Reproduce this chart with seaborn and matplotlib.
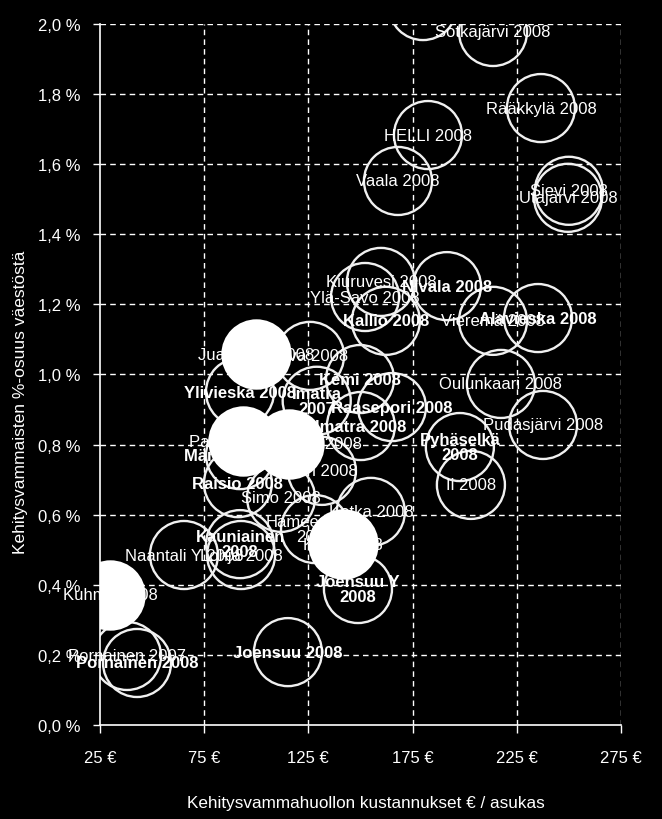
import matplotlib
matplotlib.use("Agg")
import matplotlib.pyplot as plt
import seaborn as sns
import pandas as pd
from matplotlib.ticker import FuncFormatter, FixedLocator

# ---------------- data ----------------
names = ["", "Sotkajärvi 2008", "Rääkkylä 2008", "HELLI 2008", "Vaala 2008",
         "Sievi 2008", "Utajärvi 2008", "Nivala 2008", "Kiuruvesi 2008",
         "Ylä-Savo 2008", "Kallio 2008", "Vieremä 2008", "Alavieska 2008",
         "Oulunkaari 2008", "Pudasjärvi 2008", "Pyhäselkä\n2008", "Ii 2008",
         "Raasepori 2008", "Imatra 2008", "Kemi 2008", "Juva 2008",
         "Imatra\n2007", "Ylivieska 2008", "Raisio 2008", "Simo 2008",
         "Pori 2008", "Mäntsälä 2008", "Kauniainen\n2008", "Lohja 2008",
         "Naantali Y 2008", "Hämeenlinna\n2008", "Kotka 2008", "Joensuu Y\n2008",
         "Joensuu 2008", "Pornainen 2007", "Pornainen 2008",
         "Juankoski 2008", "Parainen 2008", "Lappeenranta 2008", "Kitee 2008",
         "Kuhmo 2008"]
cost = [180.0, 213.6, 236.6, 182.4, 168.0,
        250.0, 249.6, 191.5, 159.8,
        152.2, 162.2, 213.6, 235.2,
        217.4, 237.6, 197.7, 203.0,
        165.1, 150.2, 149.8, 125.8,
        129.0, 92.2, 91.2, 111.9,
        131.5, 92.2, 92.2, 92.7,
        65.3, 128.2, 155.0, 148.8,
        115.2, 38.0, 42.8,
        99.9, 93.6, 115.7, 141.6,
        29.8]
share = [2.051, 1.977, 1.760, 1.683, 1.552,
         1.524, 1.504, 1.252, 1.264,
         1.221, 1.153, 1.153, 1.161,
         0.973, 0.856, 0.793, 0.685,
         0.907, 0.853, 0.987, 1.053,
         0.925, 0.950, 0.690, 0.648,
         0.725, 0.770, 0.516, 0.485,
         0.485, 0.559, 0.608, 0.388,
         0.208, 0.197, 0.177,
         1.058, 0.810, 0.802, 0.516,
         0.371]
filled = [False] * 36 + [True] * 5
bold = [False, False, False, False, False,
        False, False, True, False,
        False, True, False, True,
        False, False, True, False,
        True, True, True, False,
        True, True, True, False,
        False, True, True, False,
        False, False, False, True,
        True, False, True,
        False, False, False, False,
        False]

x_ticks = [25, 75, 125, 175, 225, 275]
y_ticks = [0.0, 0.2, 0.4, 0.6, 0.8, 1.0, 1.2, 1.4, 1.6, 1.8, 2.0]
x_title = "Kehitysvammahuollon kustannukset € / asukas"
y_title = "Kehitysvammaisten %-osuus väestöstä"

df = pd.DataFrame({"name": names, "cost": cost, "share": share,
                   "filled": filled, "bold": bold})

# ---------------- style ----------------
sns.set_theme(style="dark")
plt.rcParams["font.family"] = ["Liberation Sans Narrow", "Liberation Sans", "DejaVu Sans"]

fig = plt.figure(figsize=(6.62, 8.2), dpi=100, facecolor="black")
ax = fig.add_axes([0.151, 0.1146, 0.787, 0.855])
ax.set_facecolor("black")
ax.grid(False)

open_df = df[~df["filled"]]
fill_df = df[df["filled"]]

sns.scatterplot(data=open_df, x="cost", y="share", s=2400, color="white",
                edgecolor="#f0f0f0", linewidth=1.7, ax=ax, zorder=3, legend=False)
ax.collections[-1].set_facecolor("none")
sns.scatterplot(data=fill_df, x="cost", y="share", s=2400, color="white",
                edgecolor="white", linewidth=1.7, ax=ax, zorder=4, legend=False)

ax.set_xlim(25, 275)
ax.set_ylim(0, 2.0)

# dashed grid, below the bubbles
for xv in x_ticks[1:]:
    ax.axvline(xv, color="white", linestyle=(0, (4, 3)), linewidth=1.0, zorder=1)
for yv in y_ticks[1:]:
    ax.axhline(yv, color="white", linestyle=(0, (4, 3)), linewidth=1.0, zorder=1)

for _, r in df.iterrows():
    if not r["name"]:
        continue
    ax.text(r["cost"], r["share"], r["name"], ha="center", va="center",
            color="white", fontsize=12,
            fontweight="bold" if r["bold"] else "normal",
            linespacing=1.0, zorder=5, clip_on=False)

ax.xaxis.set_major_locator(FixedLocator(x_ticks))
ax.yaxis.set_major_locator(FixedLocator(y_ticks))
ax.xaxis.set_major_formatter(FuncFormatter(lambda v, p: f"{int(round(v))} €"))
ax.yaxis.set_major_formatter(FuncFormatter(lambda v, p: f"{v:.1f} %".replace(".", ",")))

for s in ["top", "right"]:
    ax.spines[s].set_visible(False)
for s in ["left", "bottom"]:
    ax.spines[s].set_visible(True)
    ax.spines[s].set_color("white")
    ax.spines[s].set_linewidth(1.2)
    ax.spines[s].set_zorder(6)

ax.tick_params(axis="x", direction="out", length=6, width=1, color="white",
               labelcolor="white", labelsize=12, pad=12, bottom=True)
ax.tick_params(axis="y", direction="out", length=5, width=1, color="white",
               labelcolor="white", labelsize=12, pad=9, left=True)

ax.set_xlabel(x_title, color="white", fontsize=12.3)
ax.set_ylabel(y_title, color="white", fontsize=12.5)
ax.xaxis.label.set_va("center")
ax.yaxis.label.set_va("center")
ax.xaxis.set_label_coords(0.51, -0.110)
ax.yaxis.set_label_coords(-0.152, 0.462)

fig.savefig("out.png", dpi=100, facecolor="black")
